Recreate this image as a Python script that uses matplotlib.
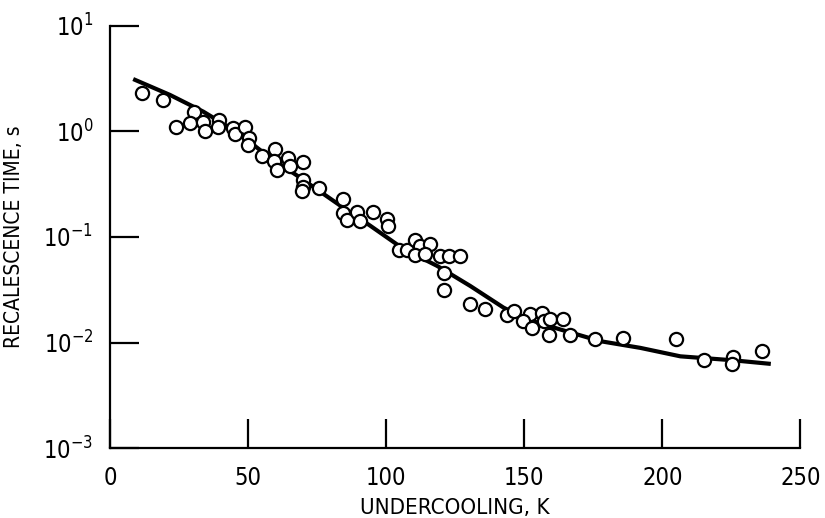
# Recalescence time vs undercooling (log y), open circles + fitted curve
import matplotlib
matplotlib.use("Agg")
import matplotlib.pyplot as plt
import numpy as np

plt.rcParams['font.family'] = ['DejaVu Sans']
plt.rcParams['font.stretch'] = 'condensed'
plt.rcParams['mathtext.fontset'] = 'dejavusans'

# measured points: undercooling (K), recalescence time (s)
undercooling = [11.5, 19.3, 23.9, 30.5, 29.0, 33.8, 34.4, 39.5, 39.2, 44.7,
                45.3, 48.9, 50.4, 50.1, 55.2, 59.8, 59.4, 60.4, 64.6, 65.2,
                70.0, 69.8, 69.8, 69.4, 75.5, 84.5, 84.5, 85.8, 89.4, 90.6,
                95.2, 100.3, 100.8, 104.5, 107.5, 110.5, 112.3, 110.5, 115.9, 114.1,
                119.6, 122.6, 126.6, 120.8, 120.8, 130.4, 135.9, 143.7, 146.1, 152.2,
                149.7, 152.8, 156.4, 157.0, 159.4, 158.8, 164.0, 166.4, 175.7, 185.8,
                205.0, 215.2, 225.6, 225.3, 236.1]
recal_time = [2.33, 1.99, 1.09, 1.54, 1.19, 1.24, 1.0, 1.28, 1.09, 1.07,
              0.94, 1.11, 0.87, 0.75, 0.59, 0.68, 0.53, 0.43, 0.56, 0.47,
              0.51, 0.35, 0.30, 0.27, 0.29, 0.23, 0.17, 0.146, 0.172, 0.143,
              0.172, 0.148, 0.128, 0.0757, 0.0757, 0.0942, 0.0826, 0.0674, 0.0858, 0.0689,
              0.0655, 0.0655, 0.0664, 0.0454, 0.0315, 0.023, 0.0206, 0.0181, 0.0199, 0.0185,
              0.016, 0.0138, 0.0192, 0.016, 0.0166, 0.0119, 0.0168, 0.0119, 0.0107, 0.0111,
              0.0109, 0.00678, 0.00731, 0.00627, 0.0084]

# fitted curve
fit_x = [9.1, 21.7, 33.8, 45.9, 56.8, 67.6, 83.3, 94.2, 106.3, 118.4,
         130.4, 142.5, 151.0, 163.0, 177.5, 192.0, 206.5, 225.8, 238.5]
fit_y = [3.08, 2.22, 1.54, 0.99, 0.594, 0.384, 0.199, 0.128, 0.0769, 0.0533,
         0.0344, 0.0214, 0.0166, 0.0133, 0.0103, 0.0089, 0.0074, 0.00678, 0.0063]

x_ticks = [0, 50, 100, 150, 200, 250]

fig = plt.figure(figsize=(8.25, 5.18), dpi=100)
ax = fig.add_axes([0.1333, 0.135, 0.837, 0.815])

ax.plot(fit_x, fit_y, color='black', linewidth=3, solid_joinstyle='round', zorder=2)
ax.plot(undercooling, recal_time, linestyle='none', marker='o', markersize=9.5,
        markerfacecolor='white', markeredgecolor='black', markeredgewidth=1.6, zorder=3)

ax.set_yscale('log')
ax.set_xlim(0, 250)
ax.set_ylim(1e-3, 1e1)
ax.set_xticks(x_ticks)
ax.set_yticks([1e-3, 1e-2, 1e-1, 1e0, 1e1])
ax.yaxis.set_minor_locator(matplotlib.ticker.NullLocator())

for side in ['top', 'right']:
    ax.spines[side].set_visible(False)
for side in ['left', 'bottom']:
    ax.spines[side].set_linewidth(1.6)

ax.tick_params(axis='both', which='major', direction='in', length=21, width=1.6,
               labelsize=17)
ax.tick_params(axis='x', pad=13)
ax.tick_params(axis='y', pad=12)

ax.set_xlabel('UNDERCOOLING, K', fontsize=16, labelpad=6)
ax.set_ylabel('RECALESCENCE TIME, s', fontsize=15, labelpad=14)

plt.savefig('out.png', dpi=100)
